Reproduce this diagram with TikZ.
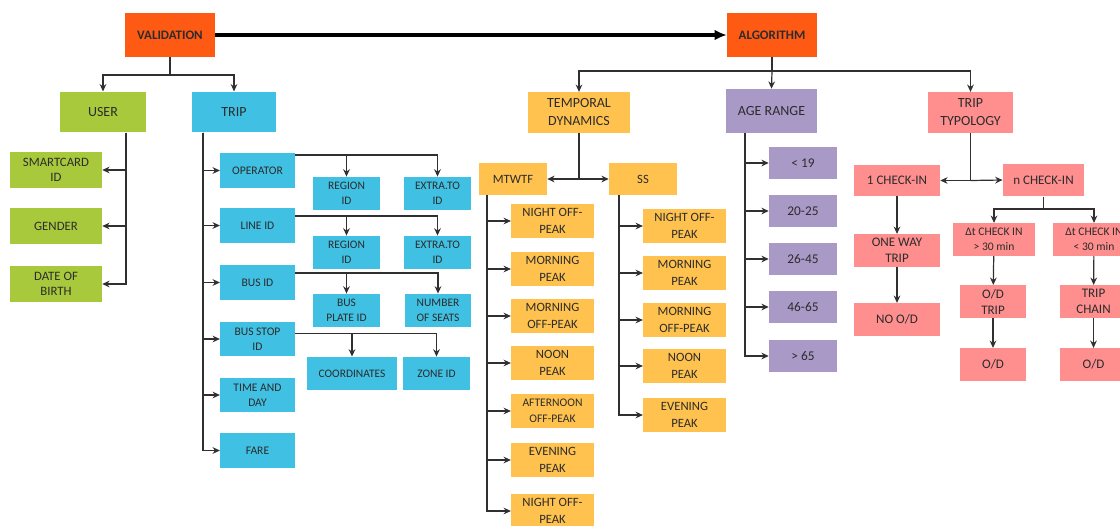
\documentclass[tikz,border=0pt]{standalone}
\usepackage{fontspec}
\setmainfont{Carlito}
\usetikzlibrary{arrows.meta}
\definecolor{valred}{HTML}{FF5A14}
\definecolor{usergreen}{HTML}{A9C93C}
\definecolor{tripblue}{HTML}{40C0E2}
\definecolor{tempyellow}{HTML}{FFC24E}
\definecolor{agepurple}{HTML}{A999C7}
\definecolor{typepink}{HTML}{FF8E8E}
\definecolor{txt}{HTML}{2C2C2C}
\definecolor{wire}{HTML}{303030}

\begin{document}
\begin{tikzpicture}[x=0.75pt,y=-0.75pt,
    box/.style={align=center,inner sep=0pt,text=txt},
    valbox/.style={box,fill=valred,minimum width=67pt,minimum height=33pt,
      font=\bfseries\fontsize{9.7}{12}\selectfont},
    headbox/.style={box,minimum width=64pt,minimum height=30.5pt,
      font=\fontsize{10.5}{13.5}\selectfont},
    userbox/.style={box,fill=usergreen,minimum width=69pt,minimum height=27pt,
      font=\fontsize{9.6}{11.5}\selectfont},
    tripbox/.style={box,fill=tripblue,minimum width=56pt,minimum height=26pt,
      font=\fontsize{8.7}{11.5}\selectfont},
    leafbox/.style={box,fill=tripblue,minimum width=50pt,minimum height=25pt,
      font=\fontsize{8.6}{11.5}\selectfont},
    tempbox/.style={box,fill=tempyellow,minimum width=62pt,minimum height=25pt,
      font=\fontsize{9.5}{12.5}\selectfont},
    agebox/.style={box,fill=agepurple,minimum width=51pt,minimum height=24pt,
      font=\fontsize{10}{12}\selectfont},
    typebox/.style={box,fill=typepink,minimum width=64.5pt,minimum height=24.5pt,
      font=\fontsize{9.8}{12}\selectfont},
    arr/.style={-{Stealth[length=5.5pt,width=5pt]},wire,line width=0.9pt},
    line/.style={wire,line width=0.9pt},
    bigarr/.style={-{Latex[length=9pt,width=8pt]},black,line width=3pt}]

  \useasboundingbox[fill=white] (0,0) rectangle (1120,525);

  \path
  (170,35) node[valbox](val) {VALIDATION}
  (772,35) node[valbox,minimum width=67.5pt](alg) {ALGORITHM}
  ;
  \draw[bigarr] (val) -- (alg);

  \path
  (103,112) node[headbox,fill=usergreen](user) {USER}
  (234,112) node[headbox,fill=tripblue,minimum width=63pt](trip) {TRIP}
  (56,170) node[userbox](smart) {SMARTCARD\\ID}
  (56,226) node[userbox](gender) {GENDER}
  (56,284) node[userbox](dob) {DATE OF\\BIRTH}
  ;
  \coordinate (vsplit) at (170,75);
  \draw[line] (val.south) -- (vsplit);
  \draw[arr] (vsplit) -| (user.north);
  \draw[arr] (vsplit) -| (trip.north);

  \draw[arr] ([shift={(23,0)}]user.south) |- (smart.east);
  \draw[arr] ([shift={(23,0)}]user.south) |- (gender.east);
  \draw[arr] ([shift={(23,0)}]user.south) |- (dob.east);

  \path
  (257.5,170.5) node[tripbox](operator) {OPERATOR}
  (257.5,225.5) node[tripbox](lineid) {LINE ID}
  (257.5,282.5) node[tripbox](busid) {BUS ID}
  (257.5,339) node[tripbox](stop) {BUS STOP\\ID}
  (257.5,395) node[tripbox](time) {TIME AND\\DAY}
  (257.5,450.5) node[tripbox](fare) {FARE}
  ;
  \foreach \n in {operator,lineid,busid,stop,time,fare}
    \draw[arr] ([shift={(-31,0)}]trip.south) |- (\n.west);

  \path
  (346.5,193.5) node[leafbox](rega) {REGION\\ID}
  (437.5,193.5) node[leafbox](exta) {EXTRA.TO\\ID}
  (346.5,252.5) node[leafbox](regb) {REGION\\ID}
  (437.5,252.5) node[leafbox](extb) {EXTRA.TO\\ID}
  (346.5,310.5) node[leafbox](plate) {BUS\\PLATE ID}
  (438,310.5) node[leafbox](seats) {NUMBER\\OF SEATS}
  (352,373.5) node[leafbox,minimum width=67.5pt](coord) {COORDINATES}
  (436.5,373.5) node[leafbox](zone) {ZONE ID}
  ;
  \draw[arr] ([shift={(0,2)}]operator.north east) -| (rega.north);
  \draw[arr] ([shift={(0,2)}]operator.north east) -| (exta.north);
  \draw[arr] ([shift={(0,8)}]lineid.north east) -| (regb.north);
  \draw[arr] ([shift={(0,8)}]lineid.north east) -| (extb.north);
  \draw[arr] ([shift={(0,8)}]busid.north east) -| (plate.north);
  \draw[arr] ([shift={(0,8)}]busid.north east) -| (seats.north);
  \draw[arr] ([shift={(0,12)}]stop.north east) -| (coord.north);
  \draw[arr] ([shift={(0,12)}]stop.north east) -| (zone.north);

  \path
  (579,112.5) node[headbox,fill=tempyellow,minimum width=76.5pt](temporal) {TEMPORAL\\DYNAMICS}
  (771.5,111) node[headbox,fill=agepurple,minimum width=68pt,minimum height=33pt](age) {AGE RANGE}
  (970.5,112.5) node[headbox,fill=typepink](typology) {TRIP\\TYPOLOGY}
  ;
  \coordinate (asplit) at (772,71);
  \draw[line] (alg.south) -- (asplit);
  \draw[arr] (asplit) -| (temporal.north);
  \draw[arr] (asplit) -- (age.north);
  \draw[arr] (asplit) -| (typology.north);

  \path
  (513,179) node[tempbox,minimum width=51pt,minimum height=24pt](mtwtf) {MTWTF}
  (643,179) node[tempbox,minimum width=51pt,minimum height=24pt](ss) {SS}
  ;
  \coordinate (tsplit) at (579,179);
  \draw[line] (temporal.south) -- (tsplit);
  \draw[arr] (tsplit) -- (mtwtf.east);
  \draw[arr] (tsplit) -- (ss.west);

  \path
  (552.5,221) node[tempbox](m1) {NIGHT OFF-\\PEAK}
  (552.5,269) node[tempbox](m2) {MORNING\\PEAK}
  (552.5,316) node[tempbox](m3) {MORNING\\OFF-PEAK}
  (552.5,363) node[tempbox](m4) {NOON\\PEAK}
  (552.5,411) node[tempbox,font=\fontsize{8.7}{12}\selectfont](m5) {AFTERNOON\\OFF-PEAK}
  (552.5,460) node[tempbox](m6) {EVENING\\PEAK}
  (552.5,511) node[tempbox](m7) {NIGHT OFF-\\PEAK}
  ;
  \foreach \n in {m1,m2,m3,m4,m5,m6,m7}
    \draw[arr] ([shift={(-26,0)}]mtwtf.south) |- (\n.west);

  \path
  (684.5,226) node[tempbox](s1) {NIGHT OFF-\\PEAK}
  (684.5,273) node[tempbox](s2) {MORNING\\PEAK}
  (684.5,320) node[tempbox](s3) {MORNING\\OFF-PEAK}
  (684.5,366) node[tempbox](s4) {NOON\\PEAK}
  (684.5,415) node[tempbox](s5) {EVENING\\PEAK}
  ;
  \foreach \n in {s1,s2,s3,s4,s5}
    \draw[arr] ([shift={(-24,0)}]ss.south) |- (\n.west);

  \path
  (803,163) node[agebox](a1) {< 19}
  (803,211) node[agebox](a2) {20-25}
  (803,259) node[agebox](a3) {26-45}
  (803,307) node[agebox](a4) {46-65}
  (803,356) node[agebox](a5) {> 65}
  ;
  \foreach \n in {a1,a2,a3,a4,a5}
    \draw[arr] ([shift={(-26.5,0)}]age.south) |- (\n.west);

  \path
  (897,180.5) node[typebox,minimum height=23.5pt](one) {1 CHECK-IN}
  (1043.5,180) node[typebox,minimum width=61pt](many) {n CHECK-IN}
  (897,250.5) node[typebox](oneway) {ONE WAY\\TRIP}
  (897,319.5) node[typebox](nood) {NO O/D}
  ;
  \coordinate (tysplit) at (970.5,180.5);
  \draw[line] (typology.south) -- (tysplit);
  \draw[arr] (tysplit) -- (one.east);
  \draw[arr] (tysplit) -- (many.west);
  \draw[arr] (one) -- (oneway);
  \draw[arr] (oneway) -- (nood);

  \path
  (994,239.5) node[typebox,minimum width=61.5pt,font=\fontsize{8.7}{11.5}\selectfont](dtmore) {Δt CHECK IN\\> 30 min}
  (1094,239.5) node[typebox,minimum width=61.5pt,font=\fontsize{8.7}{11.5}\selectfont](dtless) {Δt CHECK IN\\< 30 min}
  (993,301.5) node[typebox,minimum width=50pt](odtrip) {O/D\\TRIP}
  (1093.5,301.5) node[typebox,minimum width=50pt](chain) {TRIP\\CHAIN}
  (993,364.5) node[typebox,minimum width=50pt](oda) {O/D}
  (1093.5,364.5) node[typebox,minimum width=50pt](odb) {O/D}
  ;
  \coordinate (nsplit) at (1043.5,209);
  \draw[line] (many.south) -- (nsplit);
  \draw[arr] (nsplit) -| (dtmore.north);
  \draw[arr] (nsplit) -| (dtless.north);
  \draw[arr] (dtmore) -- (odtrip);
  \draw[arr] (dtless) -- (chain);
  \draw[arr] (odtrip) -- (oda);
  \draw[arr] (chain) -- (odb);
\end{tikzpicture}
\end{document}
